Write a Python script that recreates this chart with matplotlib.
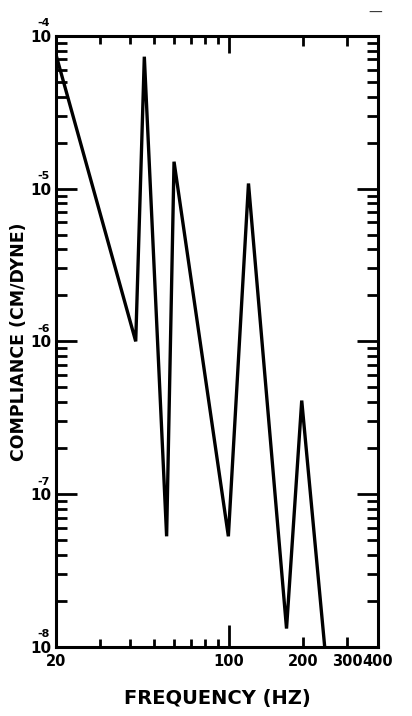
import matplotlib
matplotlib.use("Agg")
import matplotlib.pyplot as plt
from matplotlib.ticker import FixedLocator, NullFormatter, FixedFormatter

# Data (frequency in Hz, compliance in cm/dyne)
freq = [20, 42, 45.5, 56, 60, 99.5, 120, 171, 197, 244]
compliance = [7.5e-5, 1.0e-6, 7.3e-5, 5.3e-8, 1.5e-5, 5.3e-8, 1.08e-5, 1.32e-8, 4.1e-7, 1.0e-8]

x_major = [20, 100, 200, 300, 400]
x_major_labels = ["20", "100", "200", "300", "400"]
x_minor = [30, 40, 50, 60, 70, 80, 90]
y_major = [1e-8, 1e-7, 1e-6, 1e-5, 1e-4]
y_base_labels = ["10", "10", "10", "10", "10"]
y_exponents = ["-8", "-7", "-6", "-5", "-4"]

plt.rcParams['font.family'] = ['DejaVu Sans']

fig = plt.figure(figsize=(4.12, 7.16), dpi=100)
ax = fig.add_axes([0.136, 0.0964, 0.781, 0.8536])

ax.plot(freq, compliance, color='black', linewidth=2.4, solid_joinstyle='miter')
ax.set_xscale('log')
ax.set_yscale('log')
ax.set_xlim(20, 400)
ax.set_ylim(1e-8, 1e-4)

for s in ax.spines.values():
    s.set_linewidth(2.2)

ax.xaxis.set_major_locator(FixedLocator(x_major))
ax.xaxis.set_major_formatter(FixedFormatter(x_major_labels))
ax.xaxis.set_minor_locator(FixedLocator(x_minor))
ax.xaxis.set_minor_formatter(NullFormatter())

ax.yaxis.set_major_locator(FixedLocator(y_major))
ax.yaxis.set_major_formatter(FixedFormatter(y_base_labels))
ax.yaxis.set_minor_locator(FixedLocator([m * 10.0**e for e in range(-8, -4) for m in range(2, 10)]))
ax.yaxis.set_minor_formatter(NullFormatter())

ax.tick_params(which='both', direction='in', top=True, right=True, width=2.0, color='black')
ax.tick_params(axis='x', which='major', length=7, labelsize=10.5, pad=5)
ax.tick_params(axis='x', which='minor', length=6)
ax.tick_params(axis='y', which='major', length=15, labelsize=11, pad=3)
ax.tick_params(axis='y', which='minor', length=8)

for t in ax.get_xticklabels() + ax.get_yticklabels():
    t.set_fontweight('bold')

# exponents of the y tick labels, written above the "10"
for v, e in zip(y_major, y_exponents):
    ax.annotate(e, xy=(0, v), xycoords=('axes fraction', 'data'),
                xytext=(-9, 9), textcoords='offset points',
                fontsize=8, fontweight='bold', ha='center', va='center')

# Longer tick at 100 Hz
for tick, v in zip(ax.xaxis.get_major_ticks(), x_major):
    if v == 100:
        tick.tick1line.set_markersize(16)
        tick.tick2line.set_markersize(12)
    elif v in (20, 400):
        tick.tick1line.set_markersize(0)
        tick.tick2line.set_markersize(0)

ax.set_xlabel("FREQUENCY (HZ)", fontsize=14, fontweight='bold')
ax.xaxis.set_label_coords(0.5, -0.068)
ax.set_ylabel("COMPLIANCE (CM/DYNE)", fontsize=12.5, fontweight='bold')
ax.yaxis.set_label_coords(-0.088, 0.5)

fig.text(0.91, 0.982, "—", fontsize=10, ha='center', va='center', color='#333333')

fig.savefig("out.png", dpi=100)
